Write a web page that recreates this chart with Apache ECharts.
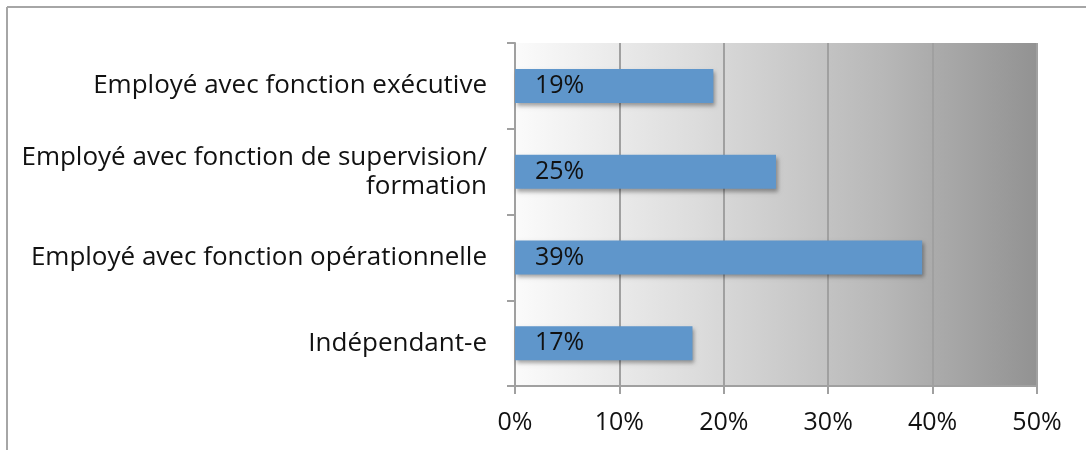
<!DOCTYPE html>
<html>
<head>
<meta charset="utf-8">
<script src="https://cdn.jsdelivr.net/npm/echarts@6/dist/echarts.min.js"></script>
<style>
html,body{margin:0;padding:0;background:#fff;}
#main{width:1086px;height:450px;}
</style>
</head>
<body>
<div id="main"></div>
<script>
// categories from bottom to top (category axis grows upward)
var categories = ['Indépendant-e', 'Employé avec fonction opérationnelle', 'Employé avec fonction de supervision/\nformation', 'Employé avec fonction exécutive'];
var values = [17, 39, 25, 19];
var xTicks = [0, 10, 20, 30, 40, 50];

var dom = document.getElementById('main');
var myChart = echarts.init(dom);
var fontFam = '"Open Sans", "Noto Sans", sans-serif';

var option = {
	animation: false,
	grid: {
		left: 515,
		right: 49,
		top: 43,
		bottom: 64,
		show: true,
		borderWidth: 0,
		backgroundColor: {
			type: 'linear', x: 0, y: 0, x2: 1, y2: 0,
			colorStops: [
				{ offset: 0, color: '#fbfbfb' },
				{ offset: 0.35, color: '#dcdcdc' },
				{ offset: 0.7, color: '#b8b8b8' },
				{ offset: 1, color: '#929292' }
			]
		}
	},
	graphic: [
		{ type: 'line', shape: { x1: 7, y1: 7, x2: 1086, y2: 7 }, style: { stroke: '#a6a6a6', lineWidth: 2 } },
		{ type: 'line', shape: { x1: 7, y1: 7, x2: 7, y2: 450 }, style: { stroke: '#a6a6a6', lineWidth: 2 } }
	],
	xAxis: {
		type: 'value',
		min: xTicks[0],
		max: xTicks[xTicks.length - 1],
		interval: 10,
		axisLine: { show: true, lineStyle: { color: '#a0a0a0', width: 2 } },
		axisTick: { show: true, length: 8, lineStyle: { color: '#a0a0a0', width: 2 } },
		splitLine: { show: true, lineStyle: { color: '#a0a0a0', width: 2 } },
		axisLabel: {
			color: '#111', fontSize: 25, fontFamily: fontFam, margin: 24,
			formatter: function (v) { return v + '%'; }
		}
	},
	yAxis: {
		type: 'category',
		data: categories,
		axisLine: { show: true, lineStyle: { color: '#a0a0a0', width: 2 } },
		axisTick: { show: true, length: 8, lineStyle: { color: '#a0a0a0', width: 2 } },
		axisLabel: {
			color: '#111', fontSize: 26, fontFamily: fontFam, margin: 28,
			lineHeight: 29, align: 'right', padding: [4, 0, 0, 0]
		}
	},
	series: [{
		type: 'bar',
		data: values,
		barWidth: 34,
		itemStyle: {
			color: '#5f96cb',
			shadowColor: 'rgba(0,0,0,0.35)',
			shadowBlur: 4,
			shadowOffsetX: 2,
			shadowOffsetY: 3
		},
		label: {
			show: true,
			position: 'insideLeft',
			distance: 20,
			color: '#111',
			fontSize: 25,
			fontFamily: fontFam,
			formatter: function (p) { return p.value + '%'; }
		}
	}]
};
if (option && typeof option === "object") {
	myChart.setOption(option, true);
}
</script>
</body>
</html>
